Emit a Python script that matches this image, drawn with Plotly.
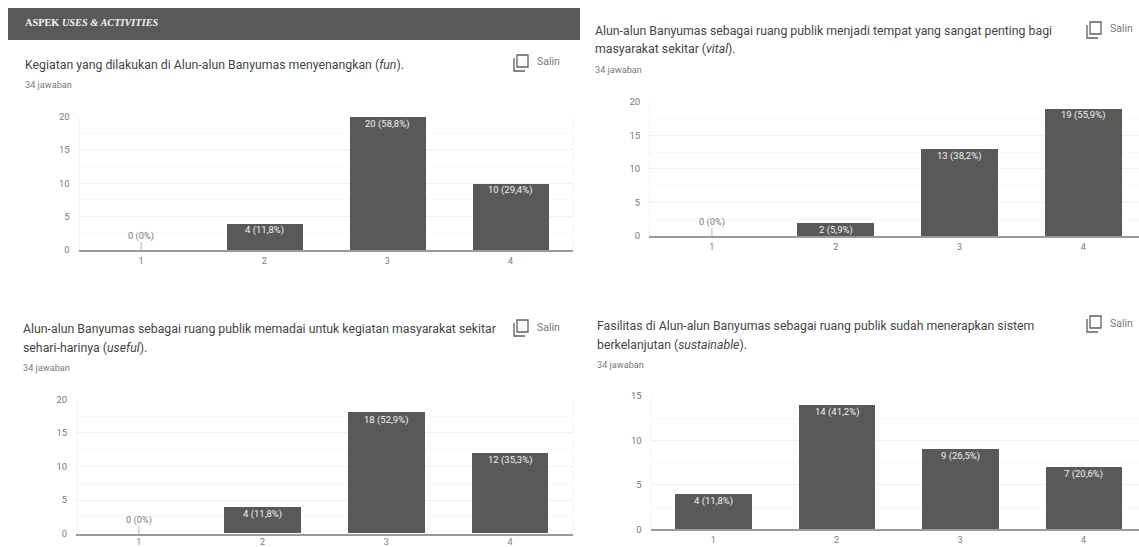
import plotly.graph_objects as go

W, H = 1139, 547

# Survey answers, one list per question
categories = [1, 2, 3, 4]
fun_counts = [0, 4, 20, 10]
fun_labels = ["0 (0%)", "4 (11,8%)", "20 (58,8%)", "10 (29,4%)"]
vital_counts = [0, 2, 13, 19]
vital_labels = ["0 (0%)", "2 (5,9%)", "13 (38,2%)", "19 (55,9%)"]
useful_counts = [0, 4, 18, 12]
useful_labels = ["0 (0%)", "4 (11,8%)", "18 (52,9%)", "12 (35,3%)"]
sustainable_counts = [4, 14, 9, 7]
sustainable_labels = ["4 (11,8%)", "14 (41,2%)", "9 (26,5%)", "7 (20,6%)"]

BAR = "#595959"
TEXT = "#454545"
MUTED = "#7a7a7a"
FONT = "Roboto"


def px(x):
    return x / W


def py(y):
    return 1 - y / H


panels = [
    dict(counts=fun_counts, labels=fun_labels, ymax=20, left=79.5, right=572, top=116.5, bottom=250,
         title=["Kegiatan yang dilakukan di Alun-alun Banyumas menyenangkan (<i>fun</i>)."],
         title_x=25, title_y=[65], count_y=85, copy_y=62, xend=4.5, xstandoff=1),
    dict(counts=vital_counts, labels=vital_labels, ymax=20, left=650, right=1139, top=101.7, bottom=236,
         title=["Alun-alun Banyumas sebagai ruang publik menjadi tempat yang sangat penting bagi",
                "masyarakat sekitar (<i>vital</i>)."],
         title_x=595, title_y=[31, 49.5], count_y=69.5, copy_y=29, xend=4.45, xstandoff=1),
    dict(counts=useful_counts, labels=useful_labels, ymax=20, left=77, right=572, top=399.3, bottom=533.7,
         title=["Alun-alun Banyumas sebagai ruang publik memadai untuk kegiatan masyarakat sekitar",
                "sehari-harinya (<i>useful</i>)."],
         title_x=22.5, title_y=[329, 347.5], count_y=367.5, copy_y=327, xend=4.5, xstandoff=-1),
    dict(counts=sustainable_counts, labels=sustainable_labels, ymax=15, left=651.5, right=1139, top=396, bottom=529.4,
         title=["Fasilitas di Alun-alun Banyumas sebagai ruang publik sudah menerapkan sistem",
                "berkelanjutan (<i>sustainable</i>)."],
         title_x=597, title_y=[325.5, 344.5], count_y=364, copy_y=323, xend=4.45, xstandoff=1),
]

fig = go.Figure()
annotations = []
shapes = [
    # Section banner
    dict(type="rect", xref="paper", yref="paper", x0=px(8), x1=px(580), y0=py(8), y1=py(40),
         fillcolor=BAR, line_width=0, layer="below"),
]
annotations.append(dict(
    text="<b>ASPEK <i>USES &amp; ACTIVITIES</i></b>", xref="paper", yref="paper", x=px(25), y=py(22.5),
    xanchor="left", yanchor="middle", showarrow=False, borderpad=0, borderwidth=0,
    font=dict(family="Liberation Serif", size=10.3, color="#f4f4f4"),
))

layout_axes = {}
for i, p in enumerate(panels, start=1):
    suffix = "" if i == 1 else str(i)
    fig.add_trace(go.Bar(
        x=categories, y=p["counts"], width=0.62, xaxis=f"x{suffix}", yaxis=f"y{suffix}",
        marker=dict(color=BAR, line_width=0), cliponaxis=False, showlegend=False, hoverinfo="x+y",
    ))
    layout_axes[f"xaxis{suffix}"] = dict(
        domain=[px(p["left"]), px(p["right"])], range=[0.5, p["xend"]], anchor=f"y{suffix}",
        tickvals=categories, showgrid=False, zeroline=False, showline=True,
        linecolor="#9a9a9a", linewidth=1.5, ticks="", ticklabelstandoff=p["xstandoff"],
        tickfont=dict(family=FONT, size=9, color=MUTED),
    )
    layout_axes[f"yaxis{suffix}"] = dict(
        domain=[py(p["bottom"]), py(p["top"])], range=[0, p["ymax"]], anchor=f"x{suffix}",
        tick0=0, dtick=5, showgrid=True, gridcolor="#f0f0f0", gridwidth=1, zeroline=False,
        minor=dict(dtick=2.5, tick0=0, showgrid=True, gridcolor="#f8f8f8", gridwidth=1),
        ticks="", ticklabelstandoff=7, showline=True, linecolor="#f3f3f3", linewidth=1, mirror=True,
        tickfont=dict(family=FONT, size=9.5, color=MUTED),
    )

    # Value labels: inside the top of each bar, or over a short stem for an empty one
    for c, t, n in zip(categories, p["labels"], p["counts"]):
        if n == 0:
            annotations.append(dict(
                text=t, x=c, y=0, xref=f"x{suffix}", yref=f"y{suffix}", showarrow=True,
                arrowhead=0, arrowwidth=1, arrowcolor="#b5b5b5", ax=0, ay=-8, standoff=0,
                yanchor="bottom", borderpad=0, borderwidth=0,
                font=dict(family=FONT, size=9.3, color=MUTED),
            ))
        else:
            annotations.append(dict(
                text=t, x=c, y=n, yshift=-1, xref=f"x{suffix}", yref=f"y{suffix}", showarrow=False,
                yanchor="top", xanchor="center", borderpad=0, borderwidth=0,
                font=dict(family=FONT, size=9.5, color="#f2f2f2"),
            ))

    for line, y in zip(p["title"], p["title_y"]):
        annotations.append(dict(
            text=line, xref="paper", yref="paper", x=px(p["title_x"]), y=py(y),
            xanchor="left", yanchor="middle", showarrow=False, borderpad=0, borderwidth=0,
            font=dict(family=FONT, size=12.3, color=TEXT),
        ))
    annotations.append(dict(
        text="34 jawaban", xref="paper", yref="paper", x=px(p["title_x"]), y=py(p["count_y"]),
        xanchor="left", yanchor="middle", showarrow=False, borderpad=0, borderwidth=0,
        font=dict(family=FONT, size=9.2, color=MUTED),
    ))

    # Copy control in the question's top-right corner
    right_edge = 560 if p["left"] < 500 else 1133
    annotations.append(dict(
        text="Salin", xref="paper", yref="paper", x=px(right_edge), y=py(p["copy_y"]),
        xanchor="right", yanchor="middle", showarrow=False, borderpad=0, borderwidth=0,
        font=dict(family=FONT, size=10.5, color=MUTED),
    ))
    ix = right_edge - 46
    iy = p["copy_y"]
    shapes.append(dict(type="rect", xref="paper", yref="paper", x0=px(ix + 3), x1=px(ix + 14),
                       y0=py(iy - 7), y1=py(iy + 5), line=dict(color="#5f5f5f", width=1.3)))
    shapes.append(dict(type="path", xref="paper", yref="paper",
                       path=(f"M {px(ix)} {py(iy - 4)} L {px(ix)} {py(iy + 9)} "
                             f"L {px(ix + 11)} {py(iy + 9)}"),
                       line=dict(color="#5f5f5f", width=1.3)))

fig.update_layout(
    width=W, height=H, autosize=False,
    margin=dict(l=0, r=0, t=0, b=0, pad=0, autoexpand=False),
    paper_bgcolor="white", plot_bgcolor="white", showlegend=False, bargap=0,
    annotations=annotations, shapes=shapes, **layout_axes,
)

fig.write_html("out.html", config=dict(displayModeBar=False))
